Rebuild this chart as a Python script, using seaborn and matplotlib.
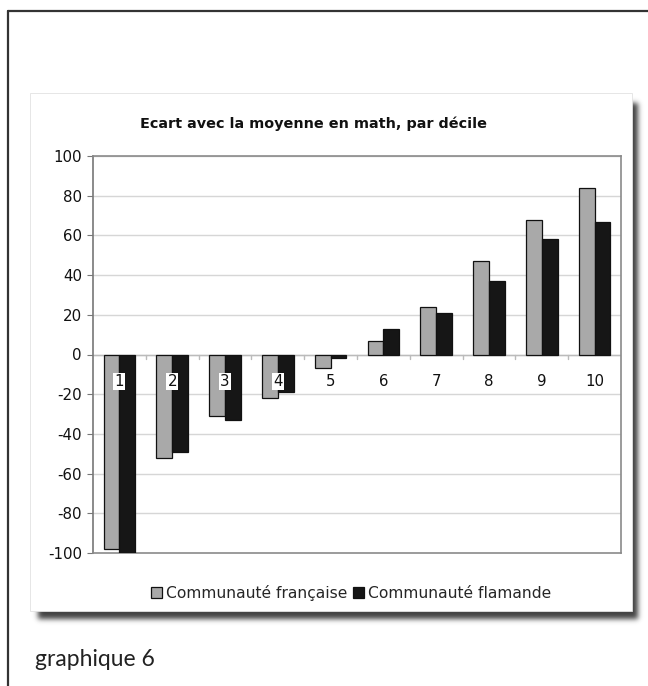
import matplotlib
matplotlib.use("Agg")
import matplotlib.pyplot as plt
import seaborn as sns
import pandas as pd
import numpy as np
from matplotlib.patches import Rectangle
from matplotlib.lines import Line2D

deciles = ["1", "2", "3", "4", "5", "6", "7", "8", "9", "10"]
communaute_francaise = [-98, -52, -31, -22, -7, 7, 24, 47, 68, 84]
communaute_flamande = [-100, -49, -33, -19, -2, 13, 21, 37, 58, 67]
series_names = ["Communauté française", "Communauté flamande"]
title = "Ecart avec la moyenne en math, par décile"
caption = "graphique 6"

df = pd.DataFrame({
    "decile": deciles * 2,
    "ecart": communaute_francaise + communaute_flamande,
    "serie": [series_names[0]] * len(deciles) + [series_names[1]] * len(deciles),
})

sns.set_style("white")
plt.rcParams["font.family"] = ["DejaVu Sans"]

W, H = 648, 686
fig = plt.figure(figsize=(W / 100, H / 100), dpi=100)
fig.patch.set_facecolor("white")

def fx(px):
    return px / W

def fy(py):
    return 1 - py / H

# outer frame (top and left rules)
fig.add_artist(Line2D([fx(8), fx(8)], [fy(11), 0], color="#333333", lw=1.6))
fig.add_artist(Line2D([fx(8), 1], [fy(11), fy(11)], color="#333333", lw=1.6))

# blurred drop shadow behind the chart panel
px0, py0, px1, py1 = 30, 93, 632, 611
mask = np.zeros((H, W))
mask[py0 + 10:py1 + 8, px0 + 8:px1 + 6] = 1.0
xs = np.arange(-9, 10)
kern = np.exp(-xs ** 2 / (2 * 2.6 ** 2))
kern /= kern.sum()
mask = np.apply_along_axis(lambda r: np.convolve(r, kern, mode="same"), 1, mask)
mask = np.apply_along_axis(lambda c: np.convolve(c, kern, mode="same"), 0, mask)
shadow = np.zeros((H, W, 4))
shadow[..., :3] = 0.22
shadow[..., 3] = np.clip(mask * 0.95, 0, 1)
fig.figimage(shadow, xo=0, yo=0, origin="upper", zorder=0)

fig.add_artist(Rectangle((fx(px0), fy(py1)), fx(px1 - px0), (py1 - py0) / H,
                         facecolor="white", edgecolor="#e2e2e2", lw=0.6, zorder=1))

ax = fig.add_axes([fx(93), fy(553), fx(621 - 93), (553 - 156) / H])
ax.set_zorder(2)

sns.barplot(data=df, x="decile", y="ecart", hue="serie", order=deciles,
            hue_order=series_names, palette=["#a9a9a9", "#161616"],
            width=0.6, edgecolor="#111111", linewidth=0.9, saturation=1,
            ax=ax, legend=True, zorder=3)

ax.set_xlim(-0.5, len(deciles) - 0.5)
ax.set_ylim(-100, 100)
ax.set_yticks(range(-100, 101, 20))
ax.set_yticklabels([str(v) for v in range(-100, 101, 20)], fontsize=10.8, color="#111111")
ax.tick_params(axis="y", length=4, width=0.8, color="#777777", pad=4, left=True)
ax.set_xticks([])
ax.set_xlabel("")
ax.set_ylabel("")
for v in range(-80, 101, 20):
    ax.axhline(v, color="#d6d6d6", lw=1.0, zorder=1)
ax.axhline(0, color="#bbbbbb", lw=1.0, zorder=1)
for i in range(len(deciles) - 1):
    ax.plot([i + 0.5, i + 0.5], [0, -2.2], color="#bbbbbb", lw=1.0, zorder=1)

for sp in ["top", "right", "bottom"]:
    ax.spines[sp].set_color("#8a8a8a")
    ax.spines[sp].set_linewidth(1.2)
ax.spines["left"].set_color("#777777")
ax.spines["left"].set_linewidth(1.2)

# category labels sit just below the zero line
for i, d in enumerate(deciles):
    ax.text(i, -13.5, d, ha="center", va="center", fontsize=10.8, color="#111111", zorder=5,
            bbox=dict(boxstyle="square,pad=0.08", facecolor="white", edgecolor="none"))

handles, labels = ax.get_legend_handles_labels()
ax.legend_.remove()
fig.legend(handles, labels, loc="center", bbox_to_anchor=(fx(351), fy(593)), ncol=2,
           frameon=False, fontsize=11.2, handlelength=0.7, handleheight=0.7,
           handletextpad=0.25, columnspacing=0.35)

fig.text(fx(314), fy(124), title, ha="center", va="center", fontsize=10.4,
         fontweight="bold", color="#111111")
fig.text(fx(35), fy(660), caption, ha="left", va="center", fontsize=16.5,
         family=["Lato", "DejaVu Sans"], color="#222222")

fig.savefig("out.png", dpi=100, facecolor="white")
